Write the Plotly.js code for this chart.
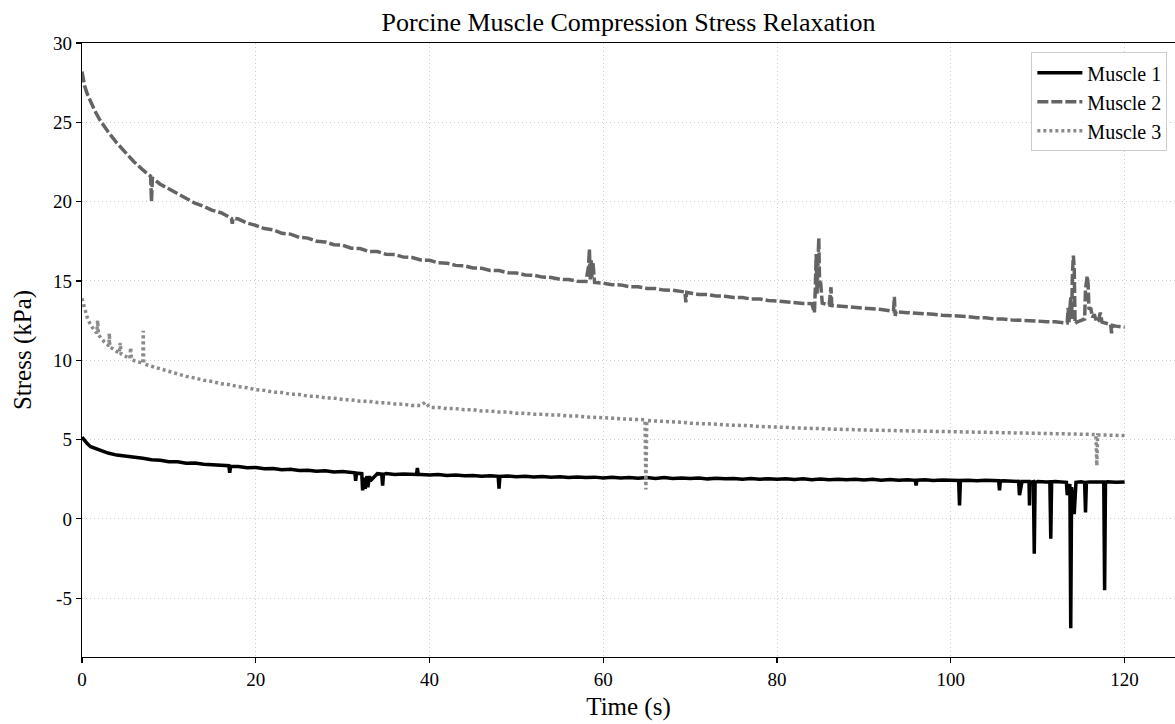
<!DOCTYPE html>
<html>
<head>
<meta charset="utf-8">
<script src="https://cdn.plot.ly/plotly-3.0.1.min.js"></script>
<style>html,body{margin:0;padding:0;background:#fff;}#chart{width:1175px;height:724px;}</style>
</head>
<body>
<div id="chart"></div>
<script>
// ---- Data ----
const seriesNames = ["Muscle 1", "Muscle 2", "Muscle 3"];

const time1 = [0,0.3,0.6,1,1.5,2,2.5,3,4,5,6,7,8,9,10,11,12,13,14,15,16,16.9,17,17.1,18,19,20,21,22,23,24,25,26,27,28,29,30,31,31.4,31.5,31.6,32.2,32.3,32.5,32.6,32.8,32.9,33.1,33.2,34,34.5,34.6,34.7,35,36,37,38,38.5,38.6,38.7,39,40,41,42,43,44,45,46,47,47.9,48,48.1,49,50,51,52,53,54,55,56,57,58,59,60,61,62,63,64,65,66,67,68,69,70,71,72,73,74,75,76,77,78,79,80,81,82,83,84,85,86,87,88,89,90,91,92,93,94,95,95.9,96,96.1,97,98,99,100,100.9,101,101.1,102,103,104,105,105.5,105.6,105.7,106,107,107.8,107.9,108.1,108.2,109,109.05,109.1,109.5,109.6,109.7,110,111,111.4,111.5,111.6,112,113,113.3,113.4,113.7,113.8,113.9,114.2,114.3,114.4,115,115.4,115.5,115.6,116,117,117.6,117.7,117.8,118,119,120];
const stress1 = [5.15,4.9,4.75,4.55,4.45,4.3,4.2,4.15,4.02,3.96,3.86,3.82,3.72,3.7,3.6,3.6,3.5,3.52,3.44,3.42,3.36,3.35,2.9,3.3,3.3,3.22,3.24,3.16,3.18,3.1,3.12,3.05,3.07,3.0,3.03,2.96,2.98,2.92,2.9,2.4,2.88,2.85,1.8,2.6,1.9,2.7,2.0,2.7,2.4,2.85,2.82,2.1,2.8,2.86,2.8,2.82,2.78,2.8,3.2,2.8,2.8,2.76,2.79,2.73,2.76,2.71,2.74,2.69,2.72,2.68,1.9,2.68,2.7,2.65,2.69,2.64,2.67,2.62,2.66,2.6,2.64,2.6,2.63,2.58,2.62,2.58,2.6,2.56,2.6,2.55,2.6,2.54,2.58,2.54,2.57,2.52,2.56,2.52,2.55,2.5,2.55,2.5,2.53,2.49,2.53,2.48,2.52,2.47,2.51,2.47,2.5,2.46,2.5,2.45,2.49,2.44,2.48,2.43,2.47,2.43,2.1,2.44,2.46,2.42,2.45,2.41,2.42,0.85,2.42,2.44,2.4,2.43,2.39,2.4,1.8,2.38,2.4,2.37,2.36,1.5,2.0,2.36,2.35,0.85,2.3,2.35,-2.2,2.3,2.36,2.33,2.34,-1.25,2.33,2.35,2.32,2.3,1.5,2.2,-6.9,2.0,0.3,2.2,2.3,2.34,2.3,0.4,2.3,2.33,2.3,2.32,-4.5,2.3,2.34,2.3,2.32];

const time2 = [0,0.3,0.6,1,1.5,2,3,4,5,6,7,7.9,8,8.1,9,10,11,12,13,14,15,16,17,17.2,17.3,17.4,18,19,20,21,22,23,24,25,26,27,28,29,30,31,32,33,34,35,36,37,38,39,40,41,42,43,44,45,46,47,48,49,50,51,52,53,54,55,56,57,58,58.3,58.4,58.5,58.6,58.7,58.8,58.9,59,60,61,62,63,64,65,66,67,68,69,69.4,69.5,69.6,70,71,72,73,74,75,76,77,78,79,80,81,82,83,84,84.3,84.4,84.5,84.6,84.7,84.8,84.9,85.0,85.2,86,86.2,86.3,87,88,89,90,91,92,93,93.4,93.5,93.6,93.7,94,95,96,97,98,99,100,101,102,103,104,105,106,107,108,109,110,111,112,113,113.4,113.5,113.6,113.8,113.9,114.0,114.1,114.2,114.3,114.5,115,115.4,115.5,115.6,115.7,115.8,115.9,116.1,116.3,116.5,116.8,117,117.2,117.4,118,118.4,118.5,118.6,119,120];
const stress2 = [28.2,27.3,26.8,26.3,25.7,25.2,24.4,23.7,23.1,22.5,22.0,21.6,20.0,21.5,21.1,20.8,20.45,20.2,19.9,19.7,19.45,19.3,19.05,18.95,18.6,18.95,18.9,18.65,18.5,18.3,18.22,18.0,17.95,17.75,17.7,17.5,17.46,17.28,17.25,17.06,17.04,16.86,16.85,16.68,16.66,16.5,16.48,16.32,16.3,16.14,16.12,15.98,15.96,15.82,15.8,15.66,15.65,15.52,15.5,15.38,15.36,15.24,15.22,15.1,15.09,14.98,14.97,15.9,17.0,15.1,16.3,15.2,16.2,14.95,14.9,14.85,14.76,14.75,14.64,14.63,14.53,14.52,14.42,14.41,14.3,14.3,13.65,14.28,14.24,14.14,14.14,14.05,14.04,13.95,13.95,13.86,13.86,13.76,13.74,13.68,13.66,13.58,13.57,13.0,14.5,16.7,14.2,16.0,17.7,14.6,15.0,13.6,13.48,14.6,13.45,13.42,13.38,13.32,13.3,13.22,13.2,13.12,13.1,14.0,12.8,13.1,13.04,13.0,12.98,12.92,12.9,12.84,12.82,12.76,12.75,12.68,12.68,12.6,12.6,12.54,12.53,12.48,12.47,12.42,12.42,12.36,12.35,13.3,12.4,14.0,12.6,15.5,16.6,15.8,12.3,12.4,12.5,12.6,14.5,15.2,15.3,14.8,13.2,13.3,12.7,12.9,12.4,12.5,13.0,12.4,12.3,12.25,11.7,12.2,12.15,12.08];

const time3 = [0,0.3,0.6,1,1.5,1.7,1.8,1.9,2.5,3,3.1,3.15,3.2,4,4.3,4.4,4.5,5,5.5,5.6,5.7,6,7,7.05,7.1,8,9,10,11,12,13,14,15,16,17,18,19,20,21,22,23,24,25,26,27,28,29,30,31,32,33,34,35,36,37,38,39,39.5,40,41,42,43,44,45,46,47,48,49,50,51,52,53,54,55,56,57,58,59,60,61,62,63,64,64.8,64.9,65,66,67,68,69,70,71,72,73,74,75,76,77,78,79,80,81,82,83,84,85,86,87,88,89,90,91,92,93,94,95,96,97,98,99,100,101,102,103,104,105,106,107,108,109,110,111,112,113,114,115,116,116.7,116.8,116.9,118,119,120];
const stress3 = [13.9,13.2,12.7,12.2,11.8,11.7,12.5,11.6,11.2,10.95,10.9,11.7,10.85,10.55,10.45,11.1,10.4,10.25,10.1,10.8,10.05,9.98,9.8,11.85,9.78,9.62,9.45,9.28,9.12,8.98,8.88,8.74,8.66,8.52,8.46,8.33,8.27,8.14,8.1,7.99,7.96,7.86,7.84,7.74,7.72,7.63,7.61,7.52,7.5,7.42,7.41,7.33,7.32,7.24,7.23,7.15,7.14,7.35,7.03,7.02,6.95,6.95,6.88,6.88,6.8,6.8,6.73,6.73,6.66,6.66,6.6,6.6,6.54,6.54,6.48,6.48,6.42,6.41,6.35,6.35,6.3,6.29,6.24,6.25,1.85,6.2,6.17,6.16,6.1,6.09,6.03,6.02,5.97,5.97,5.92,5.92,5.87,5.87,5.82,5.82,5.77,5.77,5.73,5.73,5.7,5.69,5.66,5.66,5.63,5.62,5.6,5.59,5.57,5.56,5.54,5.53,5.51,5.5,5.48,5.47,5.45,5.45,5.43,5.42,5.41,5.4,5.39,5.38,5.37,5.36,5.35,5.34,5.33,5.33,5.31,5.31,5.3,5.32,3.35,5.28,5.28,5.27,5.25];

const xTickVals = [0, 20, 40, 60, 80, 100, 120];
const xTickText = ["0", "20", "40", "60", "80", "100", "120"];
const yTickVals = [-5, 0, 5, 10, 15, 20, 25, 30];
const yTickText = ["-5", "0", "5", "10", "15", "20", "25", "30"];

// ---- Chart ----
const FONT = "'Liberation Serif', 'DejaVu Serif', serif";

const traces = [
  {x: time1, y: stress1, name: seriesNames[0], type: "scatter", mode: "lines",
   line: {color: "#000000", width: 3.5, dash: "solid"}},
  {x: time2, y: stress2, name: seriesNames[1], type: "scatter", mode: "lines",
   line: {color: "#646464", width: 3.5, dash: "11px,3px"}},
  {x: time3, y: stress3, name: seriesNames[2], type: "scatter", mode: "lines",
   line: {color: "#8a8a8a", width: 3.5, dash: "3px,3px"}}
];

const axisCommon = {
  showline: true, linecolor: "#000", linewidth: 1.3,
  ticks: "outside", ticklen: 5, tickwidth: 1.2, tickcolor: "#000",
  showgrid: true, gridcolor: "#cccccc", gridwidth: 1, griddash: "1px,3px",
  zeroline: false, tickfont: {family: FONT, size: 19, color: "#000"}
};

const layout = {
  width: 1175, height: 724,
  paper_bgcolor: "#fff", plot_bgcolor: "#fff",
  margin: {l: 82, r: 0, t: 43, b: 67},
  title: {text: "Porcine Muscle Compression Stress Relaxation",
          font: {family: FONT, size: 26, color: "#000"},
          x: 0.5, xref: "paper", xanchor: "center", y: 0.97, yref: "container", yanchor: "middle"},
  xaxis: Object.assign({}, axisCommon, {
    range: [0, 125.8], tickmode: "array", tickvals: xTickVals, ticktext: xTickText,
    mirror: true,
    title: {text: "Time (s)", font: {family: FONT, size: 25, color: "#000"}, standoff: 8}
  }),
  yaxis: Object.assign({}, axisCommon, {
    range: [-8.71, 30], tickmode: "array", tickvals: yTickVals, ticktext: yTickText,
    title: {text: "Stress (kPa)", font: {family: FONT, size: 25, color: "#000"}, standoff: 14}
  }),
  showlegend: true,
  legend: {x: 0.993, xanchor: "right", y: 0.985, yanchor: "top",
           bgcolor: "rgba(255,255,255,0.9)", bordercolor: "#cccccc", borderwidth: 1,
           font: {family: FONT, size: 20, color: "#000"}, itemwidth: 45, tracegroupgap: 0}
};

Plotly.newPlot("chart", traces, layout, {staticPlot: true, displayModeBar: false});
</script>
</body>
</html>
